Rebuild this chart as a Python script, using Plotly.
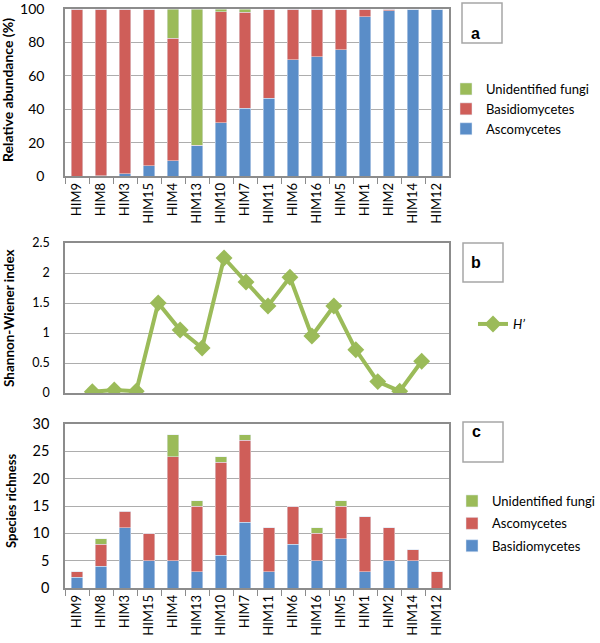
import plotly.graph_objects as go

sites = ["HIM9", "HIM8", "HIM3", "HIM15", "HIM4", "HIM13", "HIM10", "HIM7",
         "HIM11", "HIM6", "HIM16", "HIM5", "HIM1", "HIM2", "HIM14", "HIM12"]

# Panel a: relative abundance (%)
rel_asco = [0, 0.3, 1.5, 6, 9, 18, 32, 40.5, 46.5, 69.5, 71.5, 75.5, 95.5, 99, 100, 100]
rel_basidio = [100, 99.7, 98.5, 94, 73.5, 0.5, 66.5, 57.5, 53.5, 30.5, 28.5, 24.5, 4.5, 1, 0, 0]
rel_unident = [0, 0, 0, 0, 17.5, 81.5, 1.5, 2, 0, 0, 0, 0, 0, 0, 0, 0]

# Panel b: Shannon-Wiener index H'
shannon = [0.02, 0.05, 0.03, 1.5, 1.05, 0.75, 2.25, 1.85, 1.45, 1.93, 0.95, 1.45, 0.72, 0.19, 0.03, 0.53]

# Panel c: species richness
rich_basidio = [2, 4, 11, 5, 5, 3, 6, 12, 3, 8, 5, 9, 3, 5, 5, 0]
rich_asco = [1, 4, 3, 5, 19, 12, 17, 15, 8, 7, 5, 6, 10, 6, 2, 3]
rich_unident = [0, 1, 0, 0, 4, 1, 1, 1, 0, 0, 1, 1, 0, 0, 0, 0]

BLUE = "#5A8DC8"
RED = "#CF5E59"
GREEN = "#9BBB59"
GRID = "#ADADAD"
AXIS = "#8C8C8C"
FONT = "Lato"

W, H = 600, 643

def px(x):
    return x / W

def py(y):
    return 1 - y / H

fig = go.Figure()

# Panel a
fig.add_trace(go.Bar(x=sites, y=rel_asco, name="Ascomycetes", marker_color=BLUE,
                     width=0.48, xaxis="x", yaxis="y", legend="legend"))
fig.add_trace(go.Bar(x=sites, y=rel_basidio, name="Basidiomycetes", marker_color=RED,
                     width=0.48, xaxis="x", yaxis="y", legend="legend"))
fig.add_trace(go.Bar(x=sites, y=rel_unident, name="Unidentified fungi", marker_color=GREEN,
                     width=0.48, xaxis="x", yaxis="y", legend="legend"))

# Panel b
fig.add_trace(go.Scatter(x=sites, y=shannon, name="<i>H’</i>", mode="lines+markers",
                         line=dict(color=GREEN, width=4),
                         marker=dict(symbol="diamond", size=13, color=GREEN),
                         xaxis="x2", yaxis="y2", legend="legend2"))

# Panel c
fig.add_trace(go.Bar(x=sites, y=rich_basidio, name="Basidiomycetes", marker_color=BLUE,
                     width=0.48, xaxis="x3", yaxis="y3", legend="legend3",
                     legendgroup="c1", legendrank=3))
fig.add_trace(go.Bar(x=sites, y=rich_asco, name="Ascomycetes", marker_color=RED,
                     width=0.48, xaxis="x3", yaxis="y3", legend="legend3",
                     legendgroup="c2", legendrank=2))
fig.add_trace(go.Bar(x=sites, y=rich_unident, name="Unidentified fungi", marker_color=GREEN,
                     width=0.48, xaxis="x3", yaxis="y3", legend="legend3",
                     legendgroup="c3", legendrank=1))

xdom = [px(65), px(449)]
xcommon = dict(domain=xdom, type="category", showline=True, linecolor=AXIS, linewidth=1.5,
               mirror=True, showgrid=False, tickson="boundaries", ticks="outside",
               ticklen=6, tickcolor=AXIS, tickangle=-90, automargin=False,
               ticklabeloverflow="allow",
               tickfont=dict(family=FONT, size=13, color="#000"), fixedrange=True)
ycommon = dict(showline=True, linecolor=AXIS, linewidth=1.5, mirror=True, automargin=False,
               showgrid=True, gridcolor=GRID, gridwidth=1.2, ticks="", zeroline=False,
               ticklabeloverflow="allow", fixedrange=True)

fig.update_layout(
    width=W, height=H,
    margin=dict(l=0, r=0, t=0, b=0, autoexpand=False),
    paper_bgcolor="white", plot_bgcolor="white",
    barmode="stack",
    font=dict(family=FONT, color="#000"),
    xaxis=dict(**xcommon, anchor="y"),
    yaxis=dict(**ycommon, domain=[py(176), py(9)], range=[0, 100], dtick=20,
               ticklabelstandoff=16, tickfont=dict(family=FONT, size=14), anchor="x"),
    xaxis2=dict(**{**xcommon, "ticks": "", "showticklabels": False}, anchor="y2"),
    yaxis2=dict(**ycommon, domain=[py(393), py(243)], range=[0, 2.5], dtick=0.5,
                ticklabelstandoff=11, tickfont=dict(family=FONT, size=12.5), anchor="x2"),
    xaxis3=dict(**xcommon, anchor="y3"),
    yaxis3=dict(**ycommon, domain=[py(588), py(424)], range=[0, 30], dtick=5,
                ticklabelstandoff=11, tickfont=dict(family=FONT, size=14.5), anchor="x3"),
    legend=dict(x=px(446), y=py(74), xanchor="left", yanchor="top", traceorder="reversed",
                font=dict(family=FONT, size=13), bgcolor="rgba(0,0,0,0)",
                tracegroupgap=0, itemwidth=30),
    legend2=dict(x=px(473), y=py(309), xanchor="left", yanchor="top",
                 font=dict(family=FONT, size=13), bgcolor="rgba(0,0,0,0)", itemwidth=30),
    legend3=dict(x=px(452), y=py(486), xanchor="left", yanchor="top",
                 traceorder="grouped",
                 font=dict(family=FONT, size=13), bgcolor="rgba(0,0,0,0)",
                 tracegroupgap=2.5, itemwidth=30),
    showlegend=True,
)

# Axis titles
titles = [("Relative abundance (%)", 8, 90, 14), ("Shannon-Wiener index", 9, 318, 13.5),
          ("Species richness", 11, 501, 13)]
for text, x, y, fs in titles:
    fig.add_annotation(text=f"<b>{text}</b>", x=px(x), y=py(y), xref="paper", yref="paper",
                       textangle=-90, showarrow=False, xanchor="center", yanchor="middle",
                       font=dict(family=FONT, size=fs, color="#000"))

# Panel letter boxes
boxes = [("a", 462, 3, 502, 43), ("b", 463, 243, 503, 282), ("c", 463, 422, 503, 462)]
for letter, x0, y0, x1, y1 in boxes:
    fig.add_shape(type="rect", xref="paper", yref="paper", x0=px(x0), x1=px(x1),
                  y0=py(y1), y1=py(y0), line=dict(color="#A6A6A6", width=1.5),
                  fillcolor="white")
    fig.add_annotation(text=f"<b>{letter}</b>", x=px((x0 + x1) / 2), y=py((y0 + y1) / 2),
                       xref="paper", yref="paper", showarrow=False,
                       font=dict(family="Liberation Sans", size=16, color="#000"))

fig.write_html("out.html", config={"displayModeBar": False},
               post_script="document.body.style.margin='0px';")
